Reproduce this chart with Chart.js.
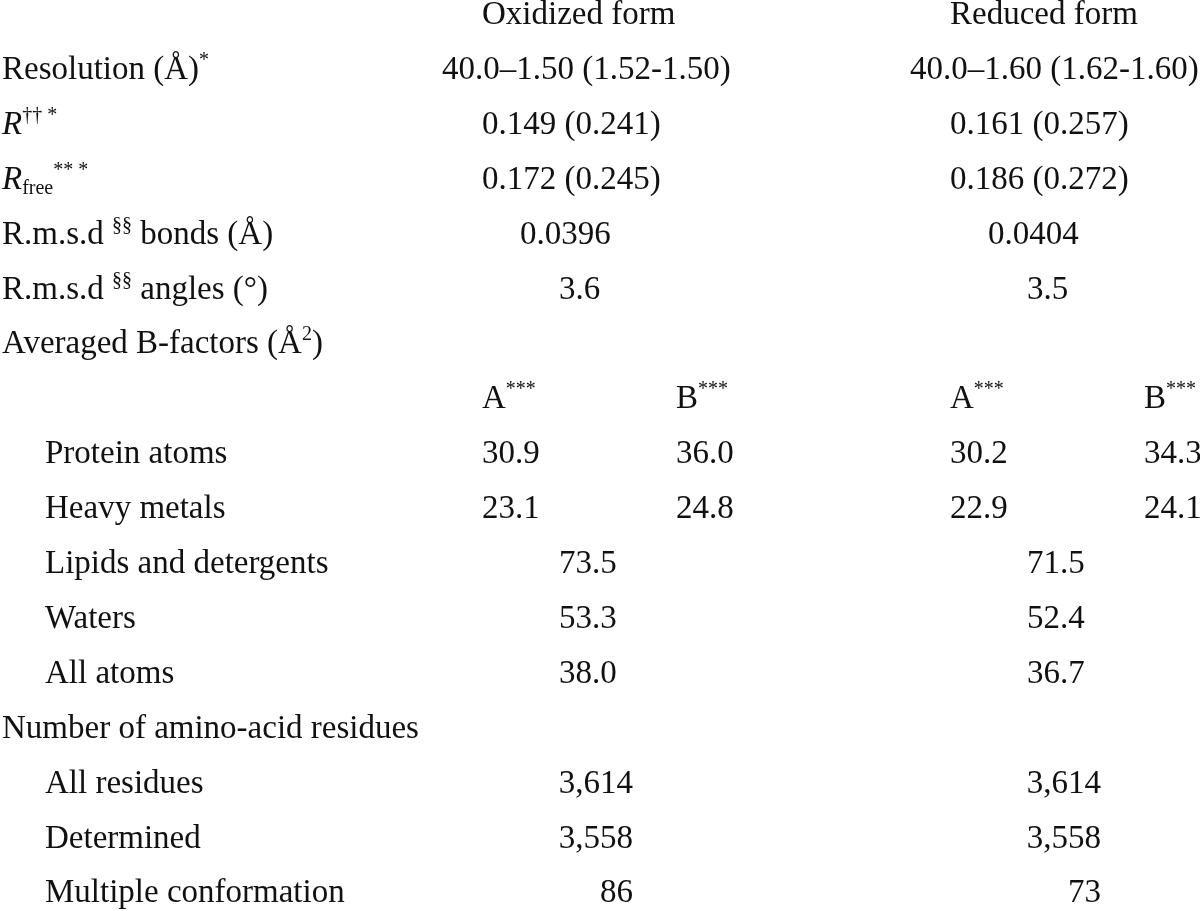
<!DOCTYPE html>
<html>
<head>
<meta charset="utf-8">
<script src="https://cdn.jsdelivr.net/npm/chart.js@4/dist/chart.umd.min.js"></script>
<style>
  html, body { margin: 0; padding: 0; background: #ffffff; overflow: hidden; }
  canvas { display: block; }
</style>
</head>
<body>
<canvas id="c" width="1200" height="911"></canvas>
<script>
// ---------------- DATA ----------------
// markup: ^{..} superscript, _{..} subscript, \i{..} italic
const columnHeaders = ['Oxidized form', 'Reduced form'];

const statLabels = [
  'Resolution (Å)^{*}',
  '\\i{R}^{†† *}',
  '\\i{R}_{free}^{** *}',
  'R.m.s.d ^{§§} bonds (Å)',
  'R.m.s.d ^{§§} angles (°)'
];
const statOxidized = ['40.0–1.50 (1.52-1.50)', '0.149 (0.241)', '0.172 (0.245)', '0.0396', '3.6'];
const statReduced  = ['40.0–1.60 (1.62-1.60)', '0.161 (0.257)', '0.186 (0.272)', '0.0404', '3.5'];

const bFactorGroupLabel = 'Averaged B-factors (Å^{2})';
const chainLabels = ['A^{***}', 'B^{***}'];
const chainRowLabels = ['Protein atoms', 'Heavy metals'];
const oxidizedChainA = [30.9, 23.1];
const oxidizedChainB = [36.0, 24.8];
const reducedChainA  = [30.2, 22.9];
const reducedChainB  = [34.3, 24.1];

const overallRowLabels = ['Lipids and detergents', 'Waters', 'All atoms'];
const oxidizedOverall = [73.5, 53.3, 38.0];
const reducedOverall  = [71.5, 52.4, 36.7];

const residueGroupLabel = 'Number of amino-acid residues';
const residueRowLabels = ['All residues', 'Determined', 'Multiple conformation'];
const oxidizedResidues = [3614, 3558, 86];
const reducedResidues  = [3614, 3558, 73];

// ---------------- LAYOUT / STYLE ----------------
const FONT = '"Liberation Serif", "Times New Roman", Times, serif';
const BASE_SIZE = 33, SMALL_SIZE = 20, SUP_RAISE = 13, SUB_DROP = 5;
const TEXT_COLOR = '#111111';
const CANVAS_H = 911;
const FIRST_BASELINE = 24, ROW_STEP = 54.9;
const X = {
  label: 2, indent: 45,
  ox:  { res: 442, head: 482, bonds: 520, mid: 559, b: 676, resid: 633 },
  red: { res: 910, head: 950, bonds: 988, mid: 1027, b: 1144, resid: 1101 }
};
const statSlots = ['res', 'head', 'head', 'bonds', 'mid'];

// ---------------- BUILD CELLS ----------------
const cells = [];
function add(row, x, align, text) { cells.push({ row, x, align, text }); }
const fmtB = v => v.toFixed(1);
const fmtN = v => v.toLocaleString('en-US');

let r = 0;
add(r, X.ox.head, 'left', columnHeaders[0]);
add(r, X.red.head, 'left', columnHeaders[1]);
r++;
statLabels.forEach((lab, i) => {
  add(r, X.label, 'left', lab);
  add(r, X.ox[statSlots[i]], 'left', statOxidized[i]);
  add(r, X.red[statSlots[i]], 'left', statReduced[i]);
  r++;
});
add(r, X.label, 'left', bFactorGroupLabel); r++;
add(r, X.ox.head, 'left', chainLabels[0]);
add(r, X.ox.b, 'left', chainLabels[1]);
add(r, X.red.head, 'left', chainLabels[0]);
add(r, X.red.b, 'left', chainLabels[1]);
r++;
chainRowLabels.forEach((lab, i) => {
  add(r, X.indent, 'left', lab);
  add(r, X.ox.head, 'left', fmtB(oxidizedChainA[i]));
  add(r, X.ox.b, 'left', fmtB(oxidizedChainB[i]));
  add(r, X.red.head, 'left', fmtB(reducedChainA[i]));
  add(r, X.red.b, 'left', fmtB(reducedChainB[i]));
  r++;
});
overallRowLabels.forEach((lab, i) => {
  add(r, X.indent, 'left', lab);
  add(r, X.ox.mid, 'left', fmtB(oxidizedOverall[i]));
  add(r, X.red.mid, 'left', fmtB(reducedOverall[i]));
  r++;
});
add(r, X.label, 'left', residueGroupLabel); r++;
residueRowLabels.forEach((lab, i) => {
  add(r, X.indent, 'left', lab);
  add(r, X.ox.resid, 'right', fmtN(oxidizedResidues[i]));
  add(r, X.red.resid, 'right', fmtN(reducedResidues[i]));
  r++;
});

// ---------------- RICH TEXT ----------------
function parseRich(s) {
  const segs = []; const re = /(\^|_|\\i)\{([^}]*)\}/g; let last = 0, m;
  while ((m = re.exec(s))) {
    if (m.index > last) segs.push({ t: s.slice(last, m.index), k: 'n' });
    segs.push({ t: m[2], k: m[1] === '^' ? 'sup' : (m[1] === '_' ? 'sub' : 'it') });
    last = re.lastIndex;
  }
  if (last < s.length) segs.push({ t: s.slice(last), k: 'n' });
  return segs;
}
function fontFor(k) {
  const size = (k === 'sup' || k === 'sub') ? SMALL_SIZE : BASE_SIZE;
  return (k === 'it' ? 'italic ' : '') + size + 'px ' + FONT;
}
function drawRich(ctx, text, x, y, align) {
  const segs = parseRich(text);
  let total = 0;
  segs.forEach(s => { ctx.font = fontFor(s.k); s.w = ctx.measureText(s.t).width; total += s.w; });
  let cx = align === 'right' ? x - total : (align === 'center' ? x - total / 2 : x);
  segs.forEach(s => {
    ctx.font = fontFor(s.k);
    const dy = s.k === 'sup' ? -SUP_RAISE : (s.k === 'sub' ? SUB_DROP : 0);
    ctx.fillText(s.t, cx, y + dy);
    cx += s.w;
  });
}

const tableTextPlugin = {
  id: 'tableText',
  afterDatasetsDraw(chart) {
    const ctx = chart.ctx;
    const meta = chart.getDatasetMeta(0);
    ctx.save();
    ctx.fillStyle = TEXT_COLOR;
    ctx.textBaseline = 'alphabetic';
    ctx.textAlign = 'left';
    meta.data.forEach((el, i) => drawRich(ctx, cells[i].text, el.x, el.y, cells[i].align));
    ctx.restore();
  }
};

new Chart(document.getElementById('c'), {
  type: 'scatter',
  data: {
    datasets: [{
      data: cells.map(c => ({ x: c.x, y: c.row })),
      pointRadius: 0, pointHoverRadius: 0, showLine: false
    }]
  },
  options: {
    responsive: false,
    animation: false,
    devicePixelRatio: 1,
    layout: { padding: 0 },
    events: [],
    plugins: { legend: { display: false }, tooltip: { enabled: false } },
    scales: {
      x: { type: 'linear', display: false, min: 0, max: 1200 },
      y: { type: 'linear', display: false, reverse: true,
           min: -FIRST_BASELINE / ROW_STEP, max: (CANVAS_H - FIRST_BASELINE) / ROW_STEP }
    }
  },
  plugins: [tableTextPlugin]
});
</script>
</body>
</html>
